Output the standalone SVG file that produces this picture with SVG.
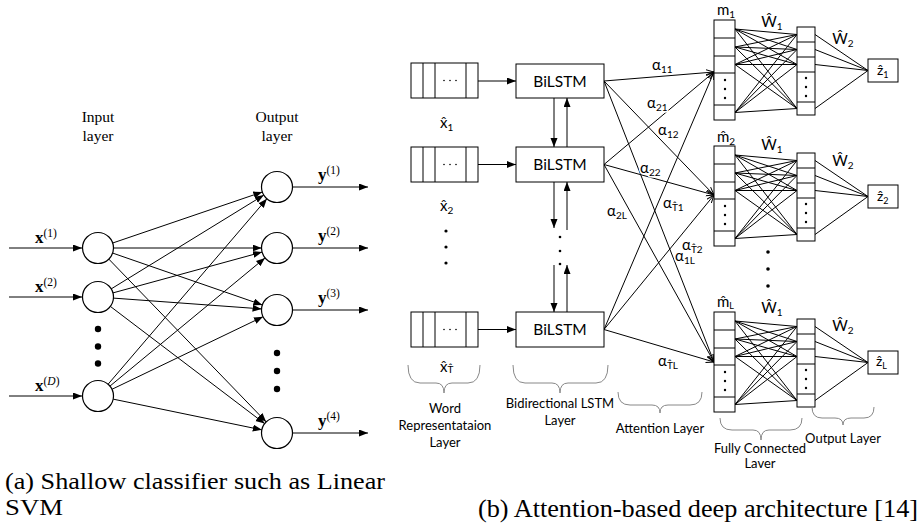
<svg xmlns="http://www.w3.org/2000/svg" xmlns:xlink="http://www.w3.org/1999/xlink" width="922" height="528" viewBox="0 0 922 528">
<style>
.ln{stroke:#000;stroke-width:1;fill:none}
.ser{font-family:"Liberation Serif","Times New Roman",serif;fill:#000}
.sans{font-family:Lato,"DejaVu Sans",sans-serif;fill:#000}
.node{fill:#fff;stroke:#000;stroke-width:1.2}
.box{fill:#fff;stroke:#000;stroke-width:1}
.brace{fill:none;stroke:#888;stroke-width:1}
.halo{paint-order:stroke;stroke:#fff;stroke-width:3px;stroke-linejoin:round}
</style>
<defs>
<marker id="ah" markerUnits="userSpaceOnUse" markerWidth="10" markerHeight="8" refX="9" refY="3.5" orient="auto"><path d="M0,0 L9,3.5 L0,7 z" fill="#000"/></marker>
<marker id="ah2" markerUnits="userSpaceOnUse" markerWidth="10" markerHeight="8" refX="8" refY="3.5" orient="auto"><path d="M0,0.5 L8,3.5 L0,6.5" fill="none" stroke="#000" stroke-width="1"/></marker>
<g id="fcblock">
<path class="ln" d="M735,9L797,14.5M735,9L797,29.5M735,9L797,44.5M735,9L797,88.5M735,27L797,14.5M735,27L797,29.5M735,27L797,44.5M735,27L797,88.5M735,44.5L797,14.5M735,44.5L797,29.5M735,44.5L797,44.5M735,44.5L797,88.5M735,92.5L797,14.5M735,92.5L797,29.5M735,92.5L797,44.5M735,92.5L797,88.5"/>
<path class="ln" d="M815,14.5L868,50.5M815,29.5L868,50.5M815,44.5L868,50.5M815,88.5L868,50.5"/>
<rect class="box" x="714" y="0" width="21" height="100"/>
<path class="ln" d="M714,18H735M714,36H735M714,53H735M714,85H735"/>
<circle cx="725" cy="60" r="1.2"/><circle cx="725" cy="69" r="1.2"/><circle cx="725" cy="78" r="1.2"/>
<rect class="box" x="797" y="7" width="18" height="88"/>
<path class="ln" d="M797,22H815M797,37H815M797,52H815M797,82H815"/>
<circle cx="806" cy="58" r="1.2"/><circle cx="806" cy="67" r="1.2"/><circle cx="806" cy="76" r="1.2"/>
<rect class="box" x="868" y="39" width="30" height="23"/>
</g>
<g id="wordbox">
<rect class="box" x="411" y="0" width="67" height="35"/>
<path class="ln" d="M423,0V35M435,0V35M466,0V35"/>
<circle cx="444" cy="17.5" r="0.8"/><circle cx="450" cy="17.5" r="0.8"/><circle cx="456" cy="17.5" r="0.8"/>
</g>
</defs>

<!-- ===== Panel (a) ===== -->
<g id="connectors-a">
<path class="ln" d="M9,248H82" marker-end="url(#ah)"/>
<path class="ln" d="M9,297H82" marker-end="url(#ah)"/>
<path class="ln" d="M9,396H82" marker-end="url(#ah)"/>
<path class="ln" d="M112.7,243L262.3,192" marker-end="url(#ah)"/>
<path class="ln" d="M113.5,248L261.5,248" marker-end="url(#ah)"/>
<path class="ln" d="M112.65,253.07L262.35,304.93" marker-end="url(#ah)"/>
<path class="ln" d="M108.8,259.1L266.2,421.9" marker-end="url(#ah)"/>
<path class="ln" d="M111.2,288.9L263.8,195.1" marker-end="url(#ah)"/>
<path class="ln" d="M112.95,292.9L262.05,252.1" marker-end="url(#ah)"/>
<path class="ln" d="M113.46,298.12L261.54,308.88" marker-end="url(#ah)"/>
<path class="ln" d="M110.34,306.38L264.66,423.62" marker-end="url(#ah)"/>
<path class="ln" d="M108.08,384.23L266.92,198.77" marker-end="url(#ah)"/>
<path class="ln" d="M109.94,386.12L265.06,257.88" marker-end="url(#ah)"/>
<path class="ln" d="M111.97,389.29L263.03,316.71" marker-end="url(#ah)"/>
<path class="ln" d="M113.18,399.14L261.82,429.86" marker-end="url(#ah)"/>
<path class="ln" d="M292.5,187H368" marker-end="url(#ah)"/>
<path class="ln" d="M292.5,248H368" marker-end="url(#ah)"/>
<path class="ln" d="M292.5,310H368" marker-end="url(#ah)"/>
<path class="ln" d="M292.5,433H368" marker-end="url(#ah)"/>
</g>
<g id="in-1"><circle class="node" cx="98" cy="248" r="15.5"/><text class="ser" x="35" y="243" font-size="17"><tspan font-weight="bold">x</tspan><tspan font-size="11.5" dy="-6">(1)</tspan></text></g>
<g id="in-2"><circle class="node" cx="98" cy="297" r="15.5"/><text class="ser" x="35" y="292" font-size="17"><tspan font-weight="bold">x</tspan><tspan font-size="11.5" dy="-6">(2)</tspan></text></g>
<g id="in-D"><circle class="node" cx="98" cy="396" r="15.5"/><text class="ser" x="35" y="391" font-size="17"><tspan font-weight="bold">x</tspan><tspan font-size="11.5" dy="-6">(<tspan font-style="italic">D</tspan>)</tspan></text></g>
<g id="in-dots"><circle cx="98" cy="329" r="3.2"/><circle cx="98" cy="346.5" r="3.2"/><circle cx="98" cy="363.5" r="3.2"/></g>
<g id="out-1"><circle class="node" cx="277" cy="187" r="15.5"/><text class="ser" x="318" y="180" font-size="17"><tspan font-weight="bold">y</tspan><tspan font-size="11.5" dy="-6">(1)</tspan></text></g>
<g id="out-2"><circle class="node" cx="277" cy="248" r="15.5"/><text class="ser" x="318" y="241" font-size="17"><tspan font-weight="bold">y</tspan><tspan font-size="11.5" dy="-6">(2)</tspan></text></g>
<g id="out-3"><circle class="node" cx="277" cy="310" r="15.5"/><text class="ser" x="318" y="303" font-size="17"><tspan font-weight="bold">y</tspan><tspan font-size="11.5" dy="-6">(3)</tspan></text></g>
<g id="out-4"><circle class="node" cx="277" cy="433" r="15.5"/><text class="ser" x="318" y="426" font-size="17"><tspan font-weight="bold">y</tspan><tspan font-size="11.5" dy="-6">(4)</tspan></text></g>
<g id="out-dots"><circle cx="277" cy="353" r="3.2"/><circle cx="277" cy="371" r="3.2"/><circle cx="277" cy="389" r="3.2"/></g>
<g id="label-input" class="ser" font-size="15.5" text-anchor="middle"><text x="98" y="122">Input</text><text x="98" y="141">layer</text></g>
<g id="label-output" class="ser" font-size="15.5" text-anchor="middle"><text x="277" y="122">Output</text><text x="277" y="141">layer</text></g>
<g id="caption-a" class="ser" font-size="23.5"><text x="5" y="489" textLength="380" lengthAdjust="spacingAndGlyphs">(a) Shallow classifier such as Linear</text><text x="5" y="515" textLength="58" lengthAdjust="spacingAndGlyphs">SVM</text></g>

<!-- ===== Panel (b) ===== -->
<g id="connectors-b">
<path class="ln" d="M478,81H516" marker-end="url(#ah)"/>
<path class="ln" d="M478,164.5H516" marker-end="url(#ah)"/>
<path class="ln" d="M478,329.5H516" marker-end="url(#ah)"/>
<path class="ln" d="M554,98V147" marker-end="url(#ah)"/>
<path class="ln" d="M567,147V98" marker-end="url(#ah)"/>
<path class="ln" d="M554,182V228" marker-end="url(#ah)"/>
<path class="ln" d="M567,230V182" marker-end="url(#ah)"/>
<path class="ln" d="M554,265V312" marker-end="url(#ah)"/>
<path class="ln" d="M567,312V265" marker-end="url(#ah)"/>
<path class="ln" d="M604,81L714,72" marker-end="url(#ah2)"/>
<path class="ln" d="M604,81L714,195" marker-end="url(#ah2)"/>
<path class="ln" d="M604,81L714,362" marker-end="url(#ah2)"/>
<path class="ln" d="M604,164.5L714,72" marker-end="url(#ah2)"/>
<path class="ln" d="M604,164.5L714,195" marker-end="url(#ah2)"/>
<path class="ln" d="M604,164.5L714,362" marker-end="url(#ah2)"/>
<path class="ln" d="M604,329.5L714,72" marker-end="url(#ah2)"/>
<path class="ln" d="M604,329.5L714,195" marker-end="url(#ah2)"/>
<path class="ln" d="M604,329.5L714,362" marker-end="url(#ah2)"/>
</g>
<g id="alpha-labels" class="sans halo" font-size="15">
<text x="652" y="70">α<tspan font-size="10" dy="3">11</tspan></text>
<text x="647" y="108">α<tspan font-size="10" dy="3">21</tspan></text>
<text x="658" y="135">α<tspan font-size="10" dy="3">12</tspan></text>
<text x="640" y="173">α<tspan font-size="10" dy="3">22</tspan></text>
<text x="607" y="216">α<tspan font-size="10" dy="3">2L</tspan></text>
<text x="663" y="208">α<tspan font-size="10" dy="3">T̂1</tspan></text>
<text x="682" y="250">α<tspan font-size="10" dy="3">T̂2</tspan></text>
<text x="675" y="261">α<tspan font-size="10" dy="3">1L</tspan></text>
<text x="658" y="366">α<tspan font-size="10" dy="3">T̂L</tspan></text>
</g>
<g id="word-1"><use xlink:href="#wordbox" y="63"/><text class="sans" x="440" y="128" font-size="15">x̂<tspan font-size="10" dy="3">1</tspan></text></g>
<g id="word-2"><use xlink:href="#wordbox" y="147"/><text class="sans" x="440" y="211" font-size="15">x̂<tspan font-size="10" dy="3">2</tspan></text></g>
<g id="word-T"><use xlink:href="#wordbox" y="312"/><text class="sans" x="440" y="372" font-size="15">x̂<tspan font-size="10" dy="1">T̂</tspan></text></g>
<g id="word-dots"><circle cx="446" cy="231" r="1.6"/><circle cx="446" cy="247" r="1.6"/><circle cx="446" cy="263" r="1.6"/></g>
<g id="bilstm-1"><rect class="box" x="516" y="64" width="88" height="34"/><text class="sans" x="560" y="87" font-size="15.5" text-anchor="middle">BiLSTM</text></g>
<g id="bilstm-2"><rect class="box" x="516" y="147" width="88" height="35"/><text class="sans" x="560" y="170" font-size="15.5" text-anchor="middle">BiLSTM</text></g>
<g id="bilstm-T"><rect class="box" x="516" y="312" width="88" height="35"/><text class="sans" x="560" y="335" font-size="15.5" text-anchor="middle">BiLSTM</text></g>
<g id="bilstm-dots"><circle cx="560" cy="237" r="1.3"/><circle cx="560" cy="251" r="1.3"/><circle cx="560" cy="264" r="1.3"/></g>

<g id="fc-1"><use xlink:href="#fcblock" y="20"/>
<text class="sans" x="717" y="15" font-size="15">m<tspan font-size="10" dy="3">1</tspan></text>
<text class="sans" x="772" y="27" font-size="15" text-anchor="middle">Ŵ<tspan font-size="10" dy="3">1</tspan></text>
<text class="sans" x="843" y="44" font-size="15" text-anchor="middle">Ŵ<tspan font-size="10" dy="3">2</tspan></text>
<text class="sans" x="877" y="75" font-size="14">ẑ<tspan font-size="9" dy="3">1</tspan></text>
</g>
<g id="fc-2"><use xlink:href="#fcblock" y="146"/>
<text class="sans" x="717" y="142" font-size="15">m̂<tspan font-size="10" dy="3">2</tspan></text>
<text class="sans" x="772" y="150" font-size="15" text-anchor="middle">Ŵ<tspan font-size="10" dy="3">1</tspan></text>
<text class="sans" x="843" y="166" font-size="15" text-anchor="middle">Ŵ<tspan font-size="10" dy="3">2</tspan></text>
<text class="sans" x="877" y="201" font-size="14">ẑ<tspan font-size="9" dy="3">2</tspan></text>
</g>
<g id="fc-dots"><circle cx="768" cy="252" r="1.8"/><circle cx="768" cy="269" r="1.8"/><circle cx="768" cy="286" r="1.8"/></g>
<g id="fc-L"><use xlink:href="#fcblock" y="312"/>
<text class="sans" x="717" y="307" font-size="15">m̂<tspan font-size="9" dy="2">L</tspan></text>
<text class="sans" x="772" y="313" font-size="15" text-anchor="middle">Ŵ<tspan font-size="10" dy="3">1</tspan></text>
<text class="sans" x="843" y="331" font-size="15" text-anchor="middle">Ŵ<tspan font-size="10" dy="3">2</tspan></text>
<text class="sans" x="876" y="366" font-size="14">ẑ<tspan font-size="9" dy="3">L</tspan></text>
</g>

<g id="braces">
<path class="brace" d="M408,365Q408,383 420,383L436,383Q444,383 444,393Q444,383 452,383L468,383Q480,383 480,365"/>
<path class="brace" d="M513,365Q513,383 525,383L552,383Q560,383 560,393Q560,383 568,383L596,383Q608,383 608,365"/>
<path class="brace" d="M618,392Q618,405 630,405L652,405Q660,405 660,413Q660,405 668,405L690,405Q702,405 702,392"/>
<path class="brace" d="M720,418Q720,430 732,430L753,430Q761,430 761,440Q761,430 769,430L790,430Q802,430 802,418"/>
<path class="brace" d="M812,407Q812,418 822,418L835,418Q843,418 843,425Q843,418 851,418L864,418Q874,418 874,407"/>
</g>
<g id="layer-labels" class="sans" font-size="13" text-anchor="middle">
<text x="445" y="413">Word</text><text x="445" y="430">Representataion</text><text x="445" y="447">Layer</text>
<text x="560" y="408">Bidirectional LSTM</text><text x="560" y="425">Layer</text>
<text x="660" y="433">Attention Layer</text>
<text x="760" y="453">Fully Connected</text><text x="760" y="468">Laver</text>
<text x="843" y="443">Output Layer</text>
</g>
<g id="caption-b" class="ser" font-size="25.5"><text x="918" y="517" text-anchor="end" textLength="440" lengthAdjust="spacingAndGlyphs">(b) Attention-based deep architecture [14]</text></g>
</svg>
